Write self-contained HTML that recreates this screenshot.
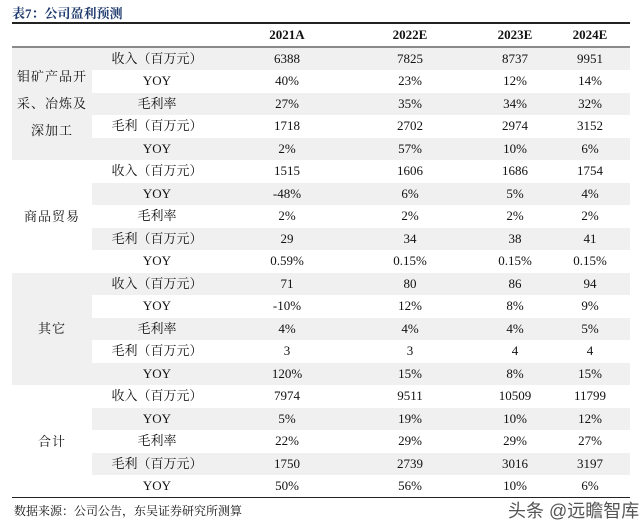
<!DOCTYPE html>
<html><head><meta charset="utf-8">
<style>
body{margin:0;width:640px;height:529px;background:#fff;position:relative;overflow:hidden;font-family:"Liberation Serif","Noto Serif CJK SC",serif;color:#111;}
.a{position:absolute;}
.t{position:absolute;text-align:center;font-size:13px;line-height:22.5px;white-space:nowrap;}
.k{font-family:"Liberation Serif","Noto Serif CJK SC",serif;}
</style></head><body>
<div class="a" style="left:12px;top:3px;font-size:13px;font-weight:bold;color:#1f3a6e;">表7：公司盈利预测</div>
<div class="a" style="left:12px;top:22px;width:618px;height:1.5px;background:#222;"></div>
<div id="hdr"></div>
<div class="a" style="left:12px;top:45.5px;width:618px;height:2.5px;background:#8a8a8a;"></div>
<div id="body"></div>
<div class="a" style="left:12px;top:496.5px;width:618px;height:1.2px;background:#222;"></div>
<div class="a" style="left:14px;top:502px;font-size:12px;">数据来源：公司公告，东吴证券研究所测算</div>
<div class="a" style="left:508px;top:497px;font-family:'Liberation Sans','Noto Sans CJK SC',sans-serif;font-size:18px;color:#555;">头条 @远瞻智库</div>
<script>
const years=["2021A","2022E","2023E","2024E"];
const groups=["钼矿产品开<br>采、冶炼及<br>深加工","商品贸易","其它","合计"];
const items=["收入（百万元）","YOY","毛利率","毛利（百万元）","YOY"];
const g1=[["6388","7825","8737","9951"],["40%","23%","12%","14%"],["27%","35%","34%","32%"],["1718","2702","2974","3152"],["2%","57%","10%","6%"]];
const g2=[["1515","1606","1686","1754"],["-48%","6%","5%","4%"],["2%","2%","2%","2%"],["29","34","38","41"],["0.59%","0.15%","0.15%","0.15%"]];
const g3=[["71","80","86","94"],["-10%","12%","8%","9%"],["4%","4%","4%","5%"],["3","3","4","4"],["120%","15%","8%","15%"]];
const g4=[["7974","9511","10509","11799"],["5%","19%","10%","12%"],["22%","29%","29%","27%"],["1750","2739","3016","3197"],["50%","56%","10%","6%"]];
const all=[g1,g2,g3,g4];
const colC=[287,410,515,590], top0=47.5, rh=22.5;
const hdr=document.getElementById('hdr'), body=document.getElementById('body');
years.forEach((y,i)=>{const d=document.createElement('div');d.className='t';


d.style.cssText=`left:${colC[i]-40}px;width:80px;top:24px;font-weight:bold;`;d.textContent=y;hdr.appendChild(d);});
all.forEach((g,gi)=>{
 const gt=top0+gi*5*rh;
 if(gi%2==0){const bg=document.createElement('div');bg.className='a';
 
 
 bg.style.cssText=`left:12px;top:${gt}px;width:80px;height:${5*rh}px;background:#f0f0f0;`;body.appendChild(bg);}
 g.forEach((row,ri)=>{
  const idx=gi*5+ri, y=gt+ri*rh;
  if(idx%2==0){const s=document.createElement('div');s.className='a';
  
  
  s.style.cssText=`left:92px;top:${y}px;width:538px;height:${rh}px;background:#f0f0f0;`;body.appendChild(s);}
  const it=document.createElement('div');it.className='t';
  
  
  it.style.cssText=`left:92px;width:130px;top:${y}px;`;it.textContent=items[ri];body.appendChild(it);
  row.forEach((v,ci)=>{const c=document.createElement('div');c.className='t';
  
  
  c.style.cssText=`left:${colC[ci]-40}px;width:80px;top:${y}px;`;c.textContent=v;body.appendChild(c);});
 });
 const lb=document.createElement('div');lb.className='a';
 
 
 const lines=groups[gi].split('<br>').length;
 lb.style.cssText=`left:12px;width:80px;text-align:center;font-size:13px;line-height:27px;letter-spacing:1px;top:${gt+5*rh/2-lines*27/2}px;`;
 lb.innerHTML=groups[gi];body.appendChild(lb);
});
</script>
</body></html>
